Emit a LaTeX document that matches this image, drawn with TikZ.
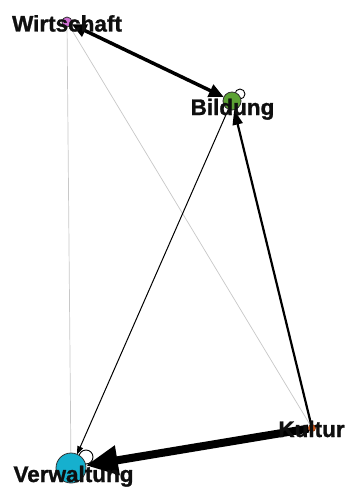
\documentclass[tikz,border=0pt]{standalone}
\usepackage{fontspec}
\setmainfont{Liberation Sans}
\newfontfamily\labfont[FakeBold=1.2]{Liberation Sans Bold}
\usetikzlibrary{arrows.meta}
\pgfdeclarelayer{bg}
\pgfsetlayers{bg,main}
\definecolor{cwirt}{RGB}{206,110,210}
\definecolor{cbild}{RGB}{92,162,52}
\definecolor{ckult}{RGB}{232,100,30}
\definecolor{cverw}{RGB}{22,176,206}
\definecolor{cgrey}{RGB}{200,200,200}
\tikzset{
  vert/.style={circle, draw={rgb,255:red,50;green,50;blue,50}, line width=0.8pt, inner sep=0pt, outer sep=0pt},
  lab/.style={anchor=base, inner sep=0pt, font=\fontsize{22.5}{27}\labfont, text={rgb,255:red,15;green,15;blue,15}},
  greyedge/.style={draw=cgrey, line width=0.7pt},
  selfloop/.style={draw=black, line width=0.9pt},
}
\begin{document}
\begin{tikzpicture}[x=1pt,y=-1pt]
\useasboundingbox (0,0) rectangle (348,487);
% vertices
\node[vert, fill=cwirt, minimum size=10pt] (w) at (67,22) {};
\node[vert, fill=cbild, minimum size=18pt] (b) at (232,101) {};
\node[vert, fill=ckult, minimum size=7pt, draw=ckult!70!black] (k) at (312,428) {};
\node[vert, fill=cverw, minimum size=30pt] (v) at (71,468) {};
\coordinate (bl) at ([shift={(8,-7)}]b.center);
\coordinate (vl) at ([shift={(15,-11)}]v.center);
\begin{pgfonlayer}{bg}
  \fill[white] (0,0) rectangle (348,487);
  \draw[greyedge] (w) -- (v);
  \draw[greyedge] (w) -- (k);
  \draw[line width=1pt, -{Triangle[length=8pt,width=6pt]}] (b) -- (v);
  \draw[line width=2.2pt, -{Triangle[length=15pt,width=10pt]}] (k) -- (b);
  \draw[line width=3.5pt, {Triangle[length=15pt,width=13pt]}-{Triangle[length=15pt,width=13pt]}] (w) -- (b);
  \draw[line width=8pt, -{Triangle[length=32pt,width=28pt]}] (k) -- (v);
  \draw[selfloop] (bl) circle (5);
  \draw[selfloop] (vl) circle (7);
\end{pgfonlayer}
% labels
\node[lab] (wt) at (67,31.5) {Wirtschaft};
\node[lab] (bt) at (232.5,115) {Bildung};
\node[lab] (kt) at (311.5,437) {Kultur};
\node[lab] (vt) at (73.5,482) {Verwaltung};
\end{tikzpicture}
\end{document}
